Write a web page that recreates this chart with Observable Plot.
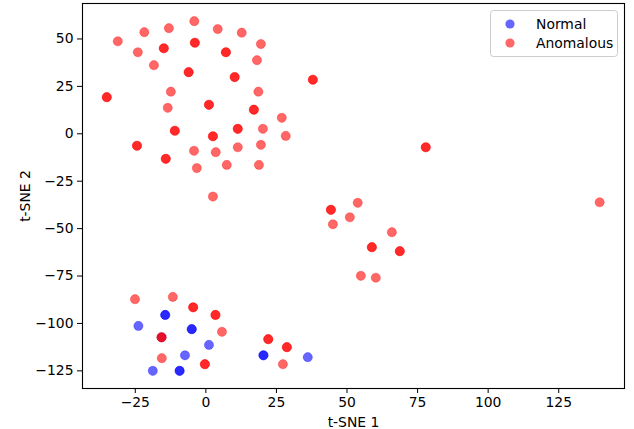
<!DOCTYPE html>
<html><head><meta charset="utf-8">
<script src="https://cdn.jsdelivr.net/npm/d3@7"></script>
<script src="https://cdn.jsdelivr.net/npm/@observablehq/plot@0.6"></script>
<style>
html,body{margin:0;padding:0;background:#fff;}
#chart svg{display:block;}
</style>
</head><body><div id="chart"></div>
<script>
// Normal points (t-SNE 1, t-SNE 2); repeated entries are coincident points
const normalX = [-14.4,-14.4,-23.9,-5.0,-5.0,1.1,-7.4,-18.8,-9.3,-9.3,20.4,20.4,36.1,-15.7];
const normalY = [-95.5,-95.5,-101.3,-103.0,-103.0,-111.3,-116.8,-125.0,-125.0,-125.0,-116.8,-116.8,-117.8,-107.3];
// Anomalous points
const anomX = [
  -31.2,-21.8,-13.1,-4.1,4.2,12.7,19.5,-24.1,-14.9,-14.9,-3.9,-3.9,7.1,7.1,18.1,-18.4,
  -6.1,-6.1,10.2,10.2,37.9,37.9,-35.1,-35.1,-12.4,18.6,-13.5,1.1,1.1,17.0,17.0,26.9,
  -11.0,-11.0,11.3,11.3,20.2,2.5,2.5,28.3,-24.4,-24.4,-4.2,3.5,11.3,19.5,-14.2,-14.2,
  -3.2,7.4,18.8,2.5,
  77.9,77.9,139.5,44.3,44.3,53.8,51.0,45.0,65.9,58.8,58.8,68.7,68.7,54.9,60.2,
  -25.1,-11.7,-4.5,-4.5,3.4,3.4,5.7,-15.7,-15.7,-15.6,-0.35,-0.35,22.1,22.1,28.7,28.7,27.3
];
const anomY = [
  48.8,53.6,55.7,59.4,55.2,53.3,47.3,43.0,45.1,45.1,48.0,48.0,43.0,43.0,38.8,36.2,
  32.5,32.5,29.9,29.9,28.5,28.5,19.3,19.3,22.2,22.2,13.7,15.3,15.3,12.7,12.7,8.4,
  1.6,1.6,2.6,2.6,2.6,-1.3,-1.3,-1.1,-6.3,-6.3,-9.0,-9.7,-7.1,-5.8,-13.2,-13.2,
  -18.1,-16.4,-16.4,-33.1,
  -7.1,-7.1,-36.1,-40.1,-40.1,-36.4,-44.0,-47.7,-51.9,-59.8,-59.8,-61.9,-61.9,-74.9,-75.9,
  -87.2,-86.0,-91.5,-91.5,-95.5,-95.5,-104.4,-107.3,-107.3,-118.3,-121.5,-121.5,-108.3,-108.3,-112.5,-112.5,-121.5
];
const xTicks = [-25,0,25,50,75,100,125];
const yTicks = [-125,-100,-75,-50,-25,0,25,50];
const labels = ["Normal","Anomalous"];
const colors = ["#0000ff","#ff0000"];

const normal = normalX.map((x,i)=>({x, y: normalY[i]}));
const anom = anomX.map((x,i)=>({x, y: anomY[i]}));
const fmt = d => d < 0 ? "\u2212" + Math.abs(d) : String(d);
const font = "DejaVu Sans";
const fs = 13.9;

const plot = Plot.plot({
  width: 634, height: 429,
  marginLeft: 82, marginRight: 10, marginTop: 3, marginBottom: 41,
  style: {fontFamily: font, fontSize: fs + "px", color: "#000", background: "#fff"},
  x: {domain: [-43.7, 148.3]},
  y: {domain: [-134.3, 68.7]},
  marks: [
    Plot.axisX({ticks: xTicks, tickFormat: fmt, tickSize: 5, tickPadding: 4, fontSize: fs, stroke: "#000",
      label: "t-SNE 1", labelAnchor: "center", labelArrow: "none", labelOffset: 38}),
    Plot.axisY({ticks: yTicks, tickFormat: fmt, tickSize: 5, tickPadding: 4, fontSize: fs, stroke: "#000",
      label: "t-SNE 2", labelAnchor: "center", labelArrow: "none", labelOffset: 62}),
    Plot.dot(normal, {x: "x", y: "y", r: 4.6, fill: colors[0], fillOpacity: 0.6, stroke: colors[0], strokeOpacity: 0.6, strokeWidth: 0.5}),
    Plot.dot(anom, {x: "x", y: "y", r: 4.6, fill: colors[1], fillOpacity: 0.6, stroke: colors[1], strokeOpacity: 0.6, strokeWidth: 0.5}),
    Plot.frame({stroke: "#000", strokeWidth: 1.1})
  ]
});
document.getElementById("chart").appendChild(plot);

// legend (upper right, matplotlib style)
const svg = d3.select(plot);
const lg = svg.append("g").attr("font-family", font).attr("font-size", fs + "px").attr("text-anchor", "start");
lg.append("rect").attr("x", 490.5).attr("y", 10.5).attr("width", 127).attr("height", 46)
  .attr("rx", 3).attr("fill", "#fff").attr("fill-opacity", 0.8).attr("stroke", "#cccccc");
labels.forEach((t, i) => {
  const cy = 24 + i * 19;
  lg.append("circle").attr("cx", 510).attr("cy", cy).attr("r", 4.6).attr("fill", colors[i]).attr("fill-opacity", 0.6);
  lg.append("text").attr("x", 536).attr("y", cy).attr("dy", "0.35em").attr("text-anchor", "start").attr("fill", "#000").text(t);
});
</script>
</body></html>
